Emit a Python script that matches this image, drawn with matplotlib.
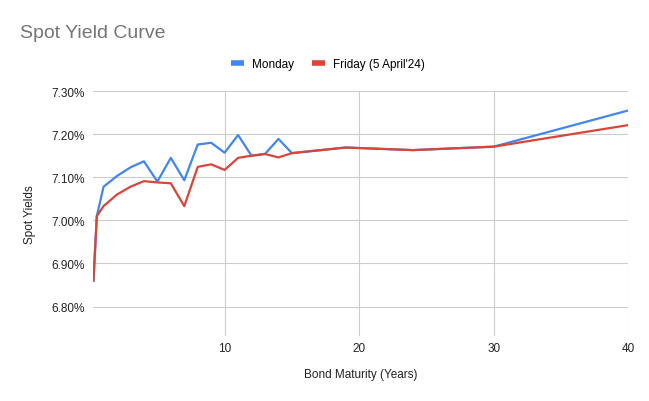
import matplotlib
matplotlib.use("Agg")
import matplotlib.pyplot as plt
from matplotlib.ticker import FuncFormatter

plt.rcParams['font.family'] = ['Liberation Sans', 'DejaVu Sans']

# bond maturity in years
maturity = [0.25, 0.5, 1, 2, 3, 4, 5, 6, 7, 8, 9, 10, 11, 12, 13, 14, 15, 19, 24, 30, 40]
# spot yields in %
monday = [6.86, 7.01, 7.078, 7.103, 7.123, 7.137, 7.09, 7.145, 7.093, 7.176, 7.18,
          7.157, 7.198, 7.15, 7.154, 7.189, 7.156, 7.169, 7.163, 7.171, 7.255]
friday = [6.86, 7.01, 7.033, 7.06, 7.078, 7.091, 7.088, 7.086, 7.033, 7.124, 7.13,
          7.117, 7.145, 7.15, 7.154, 7.146, 7.156, 7.169, 7.163, 7.171, 7.221]
yticks = [6.80, 6.90, 7.00, 7.10, 7.20, 7.30]
xticks = [10, 20, 30, 40]

fig = plt.figure(figsize=(6.49, 4.02), dpi=100)
ax = fig.add_axes([0.144, 0.162, 0.824, 0.609])

ax.plot(maturity, monday, color='#4285F4', lw=1.6, label='Monday')
ax.plot(maturity, friday, color='#DB4437', lw=1.6, label="Friday (5 April'24)")

ax.set_xlim(0.25, 40)
ax.set_ylim(6.732, 7.30)
ax.set_xticks(xticks)
ax.set_yticks(yticks)
ax.yaxis.set_major_formatter(FuncFormatter(lambda v, p: '%.2f%%' % v))

ax.grid(True, color='#cccccc', lw=0.8)
ax.set_axisbelow(True)
for s in ax.spines.values():
    s.set_visible(False)
ax.tick_params(length=0, labelsize=8.5, colors='#222222', pad=4.5)
ax.tick_params(axis='y', pad=6)

ax.set_xlabel('Bond Maturity (Years)', fontsize=8.5, color='#222222', labelpad=10)
ax.set_ylabel('Spot Yields', fontsize=8.5, color='#222222', labelpad=11)

fig.text(0.031, 0.905, 'Spot Yield Curve', fontsize=14, color='#757575', va='baseline')

fig.legend(loc='center', bbox_to_anchor=(0.505, 0.838), ncol=2, frameon=False,
           fontsize=8.5, handlelength=1.1, handleheight=0.5, columnspacing=1.5,
           handletextpad=0.7)
leg = fig.legends[0]
for line in leg.get_lines():
    line.set_linewidth(4)
    line.set_solid_capstyle('butt')

fig.savefig('out.png', dpi=100)
